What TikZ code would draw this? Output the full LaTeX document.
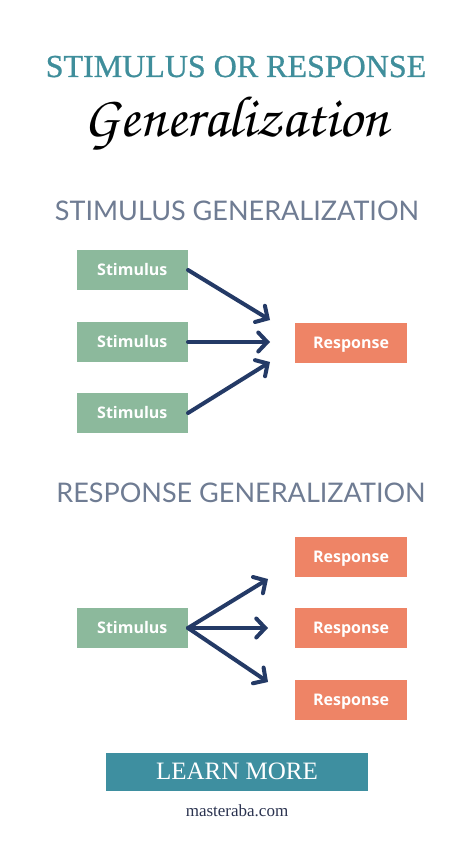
\documentclass[tikz,border=0pt]{standalone}
\usepackage[T1]{fontenc}
\usepackage{fontspec}
\usepackage{graphicx}
\usetikzlibrary{arrows.meta}
\setmainfont{Liberation Serif}
\newfontfamily\titlefont{Liberation Serif}[FakeBold=0.8]
\newfontfamily\boxfont{Open Sans}
\newfontfamily\headfont{Lato}
\definecolor{teal}{HTML}{3F8E9B}
\definecolor{btnteal}{HTML}{3E8FA0}
\definecolor{stimgreen}{HTML}{8CB99C}
\definecolor{respred}{HTML}{EE8466}
\definecolor{navy}{HTML}{243A66}
\definecolor{headgray}{HTML}{6F7C93}
\definecolor{footnavy}{HTML}{2B3350}
\begin{document}
\begin{tikzpicture}[x=1pt,y=-1pt,
  stimbox/.style={fill=stimgreen, minimum width=111pt, minimum height=40pt, inner sep=0pt,
    text height=11pt, text depth=0pt, text=white, font=\boxfont\bfseries\fontsize{16}{18}\selectfont},
  respbox/.style={stimbox, fill=respred, minimum width=112pt},
  arr/.style={draw=navy, line width=4pt, line cap=round,
    -{Straight Barb[length=9pt,width=19pt,line cap=round]}},
  heading/.style={text=headgray, font=\headfont\fontsize{27}{30}\selectfont, anchor=base, inner sep=0pt}]
\useasboundingbox[fill=white] (0,0) rectangle (474,842);

\node[text=teal, font=\titlefont\fontsize{32}{34}\selectfont, anchor=base, inner sep=0pt] (title) at (236,77) {STIMULUS OR RESPONSE};
\node[anchor=base, inner sep=0pt] (script) at (236,137)
  {\resizebox{305pt}{!}{\usefont{T1}{pzc}{m}{it}\fontsize{50}{52}\selectfont Generalization}};

\node[heading] (h1) at (237,220) {STIMULUS GENERALIZATION};

\node[stimbox] (s1) at (132.3,270) {Stimulus};
\node[stimbox] (s2) at (132.3,342) {Stimulus};
\node[stimbox] (s3) at (132.3,413) {Stimulus};
\node[respbox] (r) at (351,343) {Response};
\coordinate (t1) at (270,320);
\coordinate (t2) at (270,342);
\coordinate (t3) at (270,362);
\draw[arr] (s1.east) -- (t1);
\draw[arr] (s2.east) -- (t2);
\draw[arr] (s3.east) -- (t3);

\node[heading] (h2) at (241,502) {RESPONSE GENERALIZATION};

\node[stimbox] (ss) at (132.3,628) {Stimulus};
\node[respbox] (r1) at (351,557) {Response};
\node[respbox] (r2) at (351,628) {Response};
\node[respbox] (r3) at (351,700) {Response};
\coordinate (u1) at (268,579);
\coordinate (u2) at (268,628);
\coordinate (u3) at (268,682);
\draw[arr] (ss.east) -- (u1);
\draw[arr] (ss.east) -- (u2);
\draw[arr] (ss.east) -- (u3);

\node[fill=btnteal, text=white, minimum width=262pt, minimum height=38pt, inner sep=0pt,
  font=\fontsize{25}{27}\selectfont] (btn) at (237,771.7) {LEARN MORE};
\node[text=footnavy, font=\fontsize{17}{19}\selectfont, anchor=base, inner sep=0pt] (site) at (237,816) {masteraba.com};
\end{tikzpicture}
\end{document}
